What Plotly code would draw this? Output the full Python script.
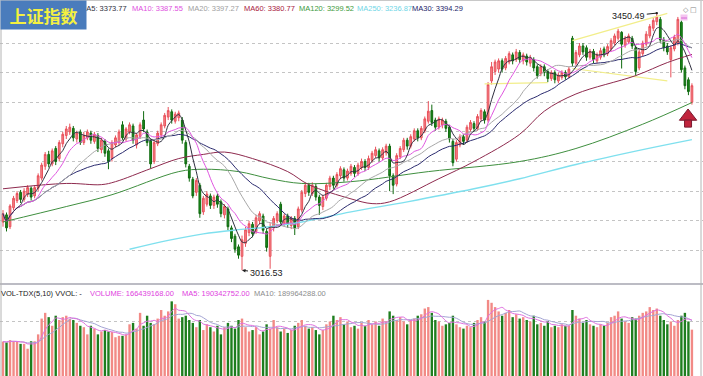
import plotly.graph_objects as go
import pandas as pd

W, H = 703, 376

# ---------------- data ----------------
opens = [
    3098, 3110, 3090, 3122, 3134, 3148, 3136, 3145, 3155, 3142,
    3155, 3172, 3192, 3212, 3196, 3222, 3205, 3230, 3244, 3250,
    3256, 3238, 3250, 3232, 3240, 3248, 3234, 3244, 3220, 3234,
    3218, 3205, 3228, 3232, 3262, 3238, 3250, 3260, 3228, 3242,
    3270, 3250, 3235, 3200, 3230, 3245, 3260, 3275, 3284, 3268,
    3274, 3270, 3232, 3192, 3170, 3148, 3160, 3115, 3128, 3142,
    3126, 3142, 3132, 3110, 3120, 3088, 3074, 3056, 3040, 3062,
    3080, 3094, 3082, 3100, 3108, 3082, 3040, 3088, 3100, 3128,
    3096, 3108, 3092, 3104, 3090, 3118, 3146, 3160, 3146, 3158,
    3140, 3124, 3138, 3158, 3172, 3160, 3176, 3186, 3172, 3180,
    3190, 3180, 3190, 3200, 3190, 3202, 3210, 3218, 3206, 3215,
    3226, 3176, 3162, 3208, 3220, 3236, 3226, 3238, 3252, 3240,
    3252, 3268, 3286, 3270, 3258, 3262, 3268, 3258, 3234, 3204,
    3228, 3242, 3236, 3254, 3264, 3256, 3272, 3284, 3270, 3336,
    3352, 3356, 3370, 3358, 3368, 3380, 3372, 3384, 3370, 3378,
    3366, 3372, 3360, 3348, 3360, 3352, 3340, 3350, 3336, 3342,
    3350, 3343, 3408, 3366, 3380, 3395, 3392, 3376, 3386, 3370,
    3376, 3390, 3382, 3390, 3400, 3408, 3418, 3396, 3402, 3408,
    3392, 3358, 3382, 3398, 3412, 3425, 3436, 3440, 3405, 3395,
    3372, 3390, 3400, 3435, 3358, 3338, 3300,
]
highs = [
    3118, 3114, 3128, 3142, 3150, 3152, 3155, 3160, 3158, 3160,
    3180, 3198, 3216, 3218, 3222, 3226, 3236, 3250, 3260, 3264,
    3260, 3252, 3254, 3250, 3254, 3252, 3250, 3248, 3240, 3238,
    3222, 3236, 3244, 3254, 3268, 3258, 3266, 3264, 3248, 3266,
    3285, 3254, 3238, 3236, 3252, 3266, 3282, 3292, 3288, 3284,
    3286, 3275, 3236, 3196, 3174, 3172, 3164, 3142, 3150, 3146,
    3144, 3146, 3136, 3128, 3124, 3092, 3078, 3060, 3075, 3090,
    3100, 3098, 3110, 3116, 3112, 3086, 3096, 3108, 3116, 3132,
    3112, 3112, 3108, 3108, 3124, 3152, 3164, 3164, 3165, 3162,
    3144, 3144, 3164, 3176, 3176, 3182, 3192, 3190, 3188, 3196,
    3194, 3198, 3205, 3204, 3210, 3218, 3225, 3222, 3224, 3230,
    3230, 3180, 3214, 3226, 3240, 3240, 3246, 3256, 3256, 3260,
    3276, 3302, 3296, 3274, 3276, 3274, 3272, 3262, 3238, 3236,
    3246, 3246, 3262, 3270, 3268, 3280, 3290, 3288, 3334, 3368,
    3372, 3374, 3374, 3378, 3386, 3384, 3390, 3388, 3384, 3382,
    3380, 3376, 3364, 3364, 3364, 3356, 3354, 3354, 3350, 3354,
    3354, 3360, 3412, 3388, 3400, 3400, 3396, 3390, 3390, 3384,
    3392, 3394, 3398, 3408, 3416, 3424, 3420, 3412, 3416, 3412,
    3396, 3390, 3404, 3420, 3432, 3442, 3450.49, 3444, 3410, 3400,
    3396, 3414, 3444, 3438, 3362, 3342, 3332,
]
lows = [
    3090, 3082, 3086, 3118, 3130, 3130, 3132, 3140, 3134, 3138,
    3150, 3168, 3186, 3190, 3192, 3194, 3200, 3224, 3238, 3245,
    3234, 3232, 3228, 3228, 3236, 3230, 3230, 3216, 3214, 3208,
    3187, 3200, 3224, 3228, 3236, 3234, 3246, 3230, 3222, 3238,
    3250, 3226, 3188, 3196, 3226, 3240, 3256, 3270, 3264, 3264,
    3268, 3230, 3190, 3166, 3138, 3142, 3105, 3110, 3124, 3120,
    3120, 3122, 3106, 3104, 3084, 3064, 3046, 3036, 3016.53, 3056,
    3074, 3072, 3078, 3094, 3078, 3048, 3019, 3082, 3096, 3092,
    3090, 3088, 3086, 3076, 3086, 3114, 3140, 3142, 3142, 3134,
    3110, 3118, 3134, 3152, 3154, 3156, 3170, 3166, 3168, 3176,
    3174, 3176, 3186, 3184, 3186, 3198, 3206, 3200, 3202, 3210,
    3150, 3145, 3158, 3204, 3216, 3220, 3222, 3234, 3234, 3236,
    3248, 3264, 3260, 3252, 3254, 3256, 3250, 3232, 3192, 3200,
    3224, 3228, 3232, 3250, 3250, 3252, 3268, 3264, 3266, 3330,
    3346, 3350, 3350, 3354, 3364, 3364, 3368, 3366, 3364, 3362,
    3360, 3352, 3340, 3344, 3344, 3334, 3336, 3332, 3332, 3338,
    3338, 3340, 3360, 3362, 3376, 3380, 3370, 3372, 3366, 3366,
    3372, 3376, 3378, 3386, 3396, 3404, 3357, 3392, 3398, 3390,
    3345, 3354, 3378, 3394, 3408, 3420, 3430, 3400, 3386, 3380,
    3342, 3386, 3396, 3350, 3322, 3312, 3296,
]
closes = [
    3112, 3088, 3125, 3138, 3146, 3136, 3150, 3156, 3140, 3156,
    3176, 3194, 3212, 3196, 3218, 3200, 3232, 3246, 3255, 3258,
    3240, 3248, 3232, 3244, 3250, 3236, 3246, 3222, 3236, 3214,
    3200, 3232, 3240, 3250, 3240, 3255, 3262, 3236, 3245, 3262,
    3255, 3232, 3196, 3232, 3248, 3262, 3278, 3286, 3270, 3280,
    3282, 3236, 3196, 3172, 3142, 3168, 3112, 3138, 3145, 3126,
    3140, 3128, 3112, 3124, 3090, 3070, 3052, 3042, 3068, 3085,
    3095, 3078, 3105, 3112, 3084, 3055, 3090, 3104, 3112, 3098,
    3108, 3094, 3104, 3088, 3120, 3148, 3160, 3148, 3160, 3140,
    3126, 3140, 3160, 3172, 3160, 3178, 3188, 3172, 3184, 3192,
    3180, 3194, 3200, 3190, 3205, 3214, 3220, 3206, 3220, 3226,
    3176, 3160, 3210, 3222, 3236, 3226, 3242, 3252, 3240, 3256,
    3272, 3285, 3266, 3258, 3272, 3270, 3256, 3238, 3198, 3232,
    3242, 3234, 3258, 3266, 3256, 3276, 3286, 3270, 3330, 3360,
    3368, 3370, 3356, 3374, 3382, 3370, 3385, 3372, 3380, 3368,
    3375, 3358, 3345, 3360, 3350, 3340, 3350, 3338, 3346, 3350,
    3343, 3356, 3366, 3384, 3395, 3385, 3376, 3386, 3372, 3380,
    3387, 3380, 3394, 3404, 3412, 3420, 3398, 3408, 3412, 3395,
    3352, 3385, 3400, 3415, 3428, 3438, 3444, 3405, 3392, 3385,
    3392, 3410, 3440, 3355, 3328, 3318, 3328,
]
# volume in millions of shares
volumes = [
    125, 122, 130, 126, 124, 117, 117, 100, 126, 126,
    150, 205, 225, 210, 180, 215, 200, 210, 215, 205,
    200, 190, 180, 175, 150, 180, 170, 150, 160, 165,
    160, 158, 140, 145, 145, 150, 185, 190, 170, 225,
    180, 215, 190, 185, 205, 235, 215, 230, 265, 255,
    205, 210, 215, 200, 190, 175, 200, 165, 185, 175,
    160, 180, 150, 175, 190, 180, 170, 200, 205, 175,
    160, 165, 175, 150, 160, 185, 170, 200, 175, 160,
    170, 155, 165, 180, 190, 200, 180, 170, 175, 165,
    150, 165, 185, 195, 215, 200, 210, 185, 195, 175,
    180, 170, 190, 180, 200, 185, 195, 180, 205, 195,
    230, 215, 200, 210, 195, 185, 200, 205, 215, 220,
    240, 245, 225, 200, 195, 180, 185, 190, 215, 185,
    175, 170, 180, 175, 190, 200, 210, 195, 270, 260,
    245, 230, 215, 225, 235, 210, 220, 205, 210, 200,
    195, 215, 185, 190, 180, 195, 175, 180, 175, 185,
    180, 180, 235, 215, 205, 190, 200, 185, 180, 175,
    185, 180, 190, 210, 215, 230, 205, 195, 190, 210,
    205, 215, 225, 230, 245, 235, 240, 215, 200, 185,
    195, 180, 200, 215, 225, 195, 166.44,
]

# long moving averages
ma60_idx = [0, 18, 28, 32, 42, 50, 57, 63, 71, 81, 87, 99, 105, 110, 124, 134, 147, 154, 163, 180, 189, 196]
ma60_val = [3154, 3163, 3161, 3166, 3188, 3205, 3212, 3216, 3205, 3183, 3161, 3137, 3129, 3132,
            3171, 3200, 3246, 3285, 3314, 3345, 3367, 3380.77]
ma120_idx = [0, 18, 31, 50, 57, 67, 76, 85, 99, 121, 147, 163, 182, 196]
ma120_val = [3098, 3124, 3144, 3183, 3187, 3183, 3171, 3163, 3166, 3183, 3200, 3222, 3263, 3299.52]
ma250_idx = [36, 47, 57, 67, 76, 85, 99, 115, 134, 147, 163, 182, 196]
ma250_val = [3052, 3067, 3078, 3085, 3090, 3098, 3115, 3132, 3154, 3171, 3195, 3220, 3236.87]

# user-drawn yellow trend lines: (start idx, start price, end idx, end price)
trend_lines = [
    (137, 3331, 155, 3333),
    (162, 3357, 189, 3336),
    (162, 3404, 189, 3450),
]
signal_idx = [194.9]
signal_price = [3272]

title_text = "上证指数"
price_labels = ["MA5: 3373.77", "MA10: 3387.55", "MA20: 3397.27", "MA60: 3380.77",
                "MA120: 3299.52", "MA250: 3236.87", "MA30: 3394.29"]
vol_labels = ["VOL-TDX(5,10) VVOL: -", "VOLUME: 166439168.00",
              "MA5: 190342752.00", "MA10: 189964288.00"]
high_text = "3450.49"
low_text = "3016.53"
high_idx, high_val = 186, 3450.49
low_idx, low_val = 68, 3016.53

# ---------------- derived ----------------
idx = list(range(len(closes)))
cs = pd.Series(closes, dtype=float)
ma5 = cs.rolling(5, min_periods=1).mean()
ma10 = cs.rolling(10, min_periods=1).mean()
ma20 = cs.rolling(20, min_periods=1).mean()
ma30 = cs.rolling(30, min_periods=1).mean()
vs = pd.Series(volumes, dtype=float)
vma5 = vs.rolling(5, min_periods=1).mean()
vma10 = vs.rolling(10, min_periods=1).mean()

UP_LINE, UP_FILL = "#e8505a", "#f4868a"
DN_LINE, DN_FILL = "#0f6a0f", "#1c8a1c"
vol_colors = ["#f28a86" if c >= o else "#1e7e1e" for o, c in zip(opens, closes)]

fig = go.Figure()

for x0, y0, x1, y1 in trend_lines:
    fig.add_trace(go.Scatter(x=[x0, x1], y=[y0, y1], mode="lines",
                             line=dict(color="#f2ee8a", width=1.2), hoverinfo="skip"))

fig.add_trace(go.Scatter(x=ma250_idx, y=ma250_val, mode="lines", line=dict(color="#7fe0ee", width=1.4, shape="spline"), hoverinfo="skip"))
fig.add_trace(go.Scatter(x=ma120_idx, y=ma120_val, mode="lines", line=dict(color="#3f8f3f", width=1, shape="spline"), hoverinfo="skip"))
fig.add_trace(go.Scatter(x=ma60_idx, y=ma60_val, mode="lines", line=dict(color="#8e2a4e", width=1, shape="spline"), hoverinfo="skip"))
fig.add_trace(go.Scatter(x=idx, y=ma30, mode="lines", line=dict(color="#2a2a6e", width=1, shape="spline"), hoverinfo="skip"))
fig.add_trace(go.Scatter(x=idx, y=ma20, mode="lines", line=dict(color="#a8a8a8", width=1, shape="spline"), hoverinfo="skip"))
fig.add_trace(go.Scatter(x=idx, y=ma10, mode="lines", line=dict(color="#e055e0", width=1, shape="spline"), hoverinfo="skip"))
fig.add_trace(go.Scatter(x=idx, y=ma5, mode="lines", line=dict(color="#303040", width=1, shape="spline"), hoverinfo="skip"))

fig.add_trace(go.Candlestick(
    x=idx, open=opens, high=highs, low=lows, close=closes,
    increasing=dict(line=dict(color=UP_LINE, width=1), fillcolor=UP_FILL),
    decreasing=dict(line=dict(color=DN_LINE, width=1), fillcolor=DN_FILL),
    whiskerwidth=0, hoverinfo="skip"))

# signal arrow (head + stem)
fig.add_trace(go.Scatter(x=signal_idx, y=[p + 4 for p in signal_price], mode="markers", cliponaxis=False,
                         marker=dict(symbol="triangle-up", size=15, color="#c0243c",
                                     line=dict(color="#7a1a30", width=1)), hoverinfo="skip"))
fig.add_trace(go.Scatter(x=signal_idx, y=[p - 8 for p in signal_price], mode="markers", cliponaxis=False,
                         marker=dict(symbol="square", size=7, color="#c0243c",
                                     line=dict(color="#7a1a30", width=1)), hoverinfo="skip"))

fig.add_trace(go.Bar(x=idx, y=volumes, marker=dict(color=vol_colors, line=dict(width=0)),
                     width=0.68, xaxis="x2", yaxis="y2", hoverinfo="skip"))
fig.add_trace(go.Scatter(x=idx, y=vma10, mode="lines", line=dict(color="#a4a4d4", width=1, shape="spline"),
                         xaxis="x2", yaxis="y2", hoverinfo="skip"))
fig.add_trace(go.Scatter(x=idx, y=vma5, mode="lines", line=dict(color="#e070e0", width=1, shape="spline"),
                         xaxis="x2", yaxis="y2", hoverinfo="skip"))

xr = [-0.853, 199.15]
main_dom = [1 - 283 / H, 1]
vol_dom = [0, 1 - 287 / H]

fig.update_layout(
    width=W, height=H, margin=dict(l=0, r=0, t=0, b=0),
    paper_bgcolor="white", plot_bgcolor="white", showlegend=False, hovermode=False,
    xaxis=dict(range=xr, domain=[0, 1], anchor="y", visible=False, rangeslider=dict(visible=False)),
    yaxis=dict(range=[2995, 3472.6], domain=main_dom, anchor="x",
               tickvals=[3050, 3100, 3150, 3200, 3250, 3300, 3350, 3400],
               showticklabels=False, ticks="", showgrid=True, gridcolor="#c4c4c4",
               griddash="dot", gridwidth=1, zeroline=False, showline=False),
    xaxis2=dict(range=xr, domain=[0, 1], anchor="y2", matches="x", visible=False),
    yaxis2=dict(range=[5, 315], domain=vol_dom, anchor="x2", tickvals=[194],
                showticklabels=False, ticks="", showgrid=True, gridcolor="#c4c4c4",
                griddash="dot", gridwidth=1, zeroline=False, showline=False),
)

def px(x):
    return x / W

def py(y):
    return 1 - y / H

shapes = [
    dict(type="line", xref="paper", yref="paper", x0=0, x1=1, y0=py(284), y1=py(284),
         line=dict(color="#bcbcc4", width=2)),
    dict(type="line", xref="paper", yref="paper", x0=px(1), x1=px(1), y0=0, y1=1,
         line=dict(color="#b4b4b4", width=1)),
    dict(type="line", xref="paper", yref="paper", x0=px(701), x1=px(701), y0=0, y1=1,
         line=dict(color="#b4b4b4", width=1)),
    dict(type="line", xref="paper", yref="paper", x0=0, x1=1, y0=py(0.5), y1=py(0.5),
         line=dict(color="#c8c8c8", width=1)),
]
fig.update_layout(shapes=shapes)

ann = []
FONT = "Liberation Sans, Arial, sans-serif"
label_x = [78, 130, 186, 242, 297, 355, 410]
label_c = ["#303040", "#e050e0", "#a0a0a0", "#a8203e", "#3c9a3c", "#6fd6e6", "#24246a"]
for t, x, c in zip(price_labels, label_x, label_c):
    ann.append(dict(text=t, x=px(x), y=py(8), xref="paper", yref="paper", xanchor="left",
                    yanchor="middle", showarrow=False, font=dict(family=FONT, size=7.5, color=c)))
vlabel_x = [-1, 88, 180, 252]
vlabel_c = ["#202020", "#e040e0", "#e040e0", "#8c8c8c"]
for t, x, c in zip(vol_labels, vlabel_x, vlabel_c):
    ann.append(dict(text=t, x=px(x), y=py(293.5), xref="paper", yref="paper", xanchor="left",
                    yanchor="middle", showarrow=False, font=dict(family=FONT, size=7.5, color=c)))
ann.append(dict(text="<b>" + title_text + "</b>", x=0, y=1, xref="paper", yref="paper",
                xanchor="left", yanchor="top", showarrow=False, bgcolor="#4a7cbc",
                width=85, height=28, borderpad=0, align="center", valign="middle",
                font=dict(family="Noto Sans CJK SC", size=17, color="#f4f040")))
ann.append(dict(text=high_text, x=high_idx, y=high_val, xref="x", yref="y", ax=-28, ay=3,
                showarrow=True, arrowhead=6, arrowsize=0.6, arrowwidth=1, arrowcolor="#202020",
                font=dict(family=FONT, size=9, color="#202020")))
ann.append(dict(text=low_text, x=low_idx, y=low_val, xref="x", yref="y", ax=24, ay=3,
                showarrow=True, arrowhead=2, arrowsize=0.7, arrowwidth=1, arrowcolor="#202020",
                font=dict(family=FONT, size=9, color="#202020")))
ann.append(dict(text="◇", x=px(690), y=py(5), xref="paper", yref="paper", showarrow=False,
                borderpad=0, font=dict(family="DejaVu Sans", size=7, color="#808080")))
ann.append(dict(text="□", x=px(698), y=py(5), xref="paper", yref="paper", showarrow=False,
                borderpad=0, font=dict(family="DejaVu Sans", size=7, color="#808080")))
ann.append(dict(text="xxx", x=px(688), y=py(13.5), xref="paper", yref="paper", showarrow=False,
                bgcolor="#f4c4f0", borderpad=0, font=dict(family=FONT, size=4, color="#d040d0")))
fig.update_layout(annotations=ann)

fig.write_html("out.html", config={"displayModeBar": False, "staticPlot": True},
               post_script="document.body.style.margin='0px';")
